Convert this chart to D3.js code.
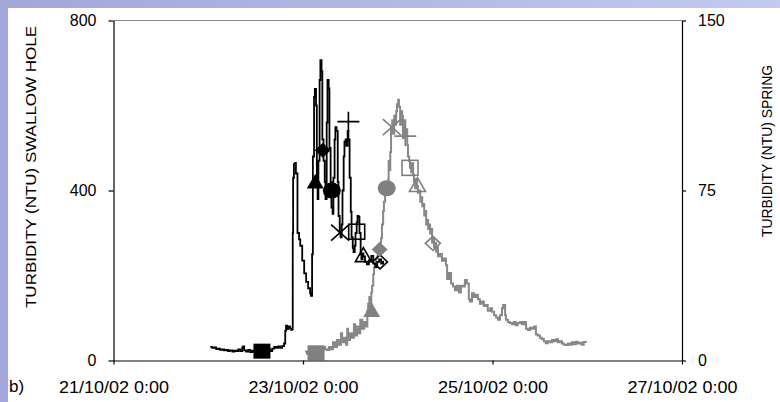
<!DOCTYPE html>
<html>
<head>
<meta charset="utf-8">
<script src="https://cdn.jsdelivr.net/npm/d3@7"></script>
<style>
  html, body { margin: 0; padding: 0; background: #fff; }
  svg { display: block; }
  text { font-family: "Liberation Sans", Arial, sans-serif; fill: #000; }
</style>
</head>
<body>
<svg id="chart" width="780" height="402"></svg>
<script>
// Event start for the time offsets below
const startTime = new Date(2002, 9, 21, 0, 0);

// Swallow hole turbidity (NTU), hours after 21/10/02 0:00
const swallowHours = [24.5,25.0,25.5,26.0,26.5,27.0,27.5,28.0,28.5,29.0,29.5,30.1,30.6,31.1,31.6,32.1,32.6,32.8,33.1,33.6,34.1,34.6,35.1,35.6,36.1,36.6,37.1,37.7,38.2,38.7,39.2,39.7,40.2,40.7,41.2,41.7,42.2,42.7,43.2,43.5,43.7,44.0,44.2,44.7,45.0,45.2,45.4,45.5,45.7,46.0,46.2,46.6,47.0,47.3,47.8,48.3,48.8,49.3,49.8,50.0,50.3,50.5,50.8,51.0,51.3,51.5,51.7,51.9,52.2,52.4,52.7,52.9,53.2,53.5,53.7,54.0,54.2,54.5,54.7,55.0,55.2,55.5,55.7,56.0,56.2,56.5,56.8,57.0,57.3,57.5,57.8,58.0,58.3,58.5,58.8,59.0,59.3,59.5,59.8,60.1,60.3,60.6,60.8,61.1,61.3,61.6,61.8,62.1,62.3,62.6,62.8,63.1,63.3,63.7,64.2,64.7,65.3,65.8,66.3,66.8,67.3,67.8,68.3];
const swallowNTU = [32,30,31,27,28,25,26,24,25,22,24,21,23,22,26,22,30,33,24,21,25,20,23,21,24,22,20,22,21,23,26,22,28,32,30,33,30,34,40,70,82,74,80,75,72,74,300,430,462,465,440,300,285,270,235,205,185,170,158,152,250,480,620,639,600,420,380,470,660,707,680,520,470,420,380,560,660,640,500,420,360,345,430,520,549,540,420,340,300,290,320,400,480,515,520,505,540,520,430,350,290,265,255,270,300,325,340,338,300,250,238,252,245,232,226,236,246,228,220,232,238,228,235];

// Spring turbidity (NTU), hours after 21/10/02 0:00
const springHours = [48.5,49.0,49.5,50.1,50.6,51.1,51.6,52.1,52.6,53.1,53.6,54.1,54.6,55.1,55.6,56.1,56.6,57.1,57.6,57.9,58.4,58.9,59.2,59.4,59.9,60.4,60.9,61.2,61.7,62.2,62.5,63.0,63.5,64.0,64.3,64.5,64.8,65.0,65.3,65.5,65.8,66.0,66.3,66.5,66.8,67.0,67.3,67.5,67.8,68.0,68.3,68.5,68.8,69.1,69.3,69.6,69.7,69.8,70.1,70.3,70.6,70.8,71.1,71.3,71.6,71.8,72.1,72.3,72.6,72.8,73.1,73.3,73.6,73.9,74.1,74.4,74.6,74.9,75.1,75.4,75.6,75.9,76.1,76.4,76.6,76.9,77.1,77.4,77.7,77.9,78.2,78.4,78.7,78.9,79.2,79.4,79.7,79.9,80.2,80.5,80.7,81.0,81.2,81.5,81.7,82.0,82.2,82.7,83.2,83.7,84.2,84.5,85.0,85.5,86.0,86.5,87.0,87.5,88.0,88.5,89.0,89.5,90.0,90.3,90.8,91.3,91.8,92.3,92.8,93.3,93.8,94.3,94.8,95.4,95.9,96.4,96.9,97.4,97.9,98.4,98.7,99.2,99.4,99.9,100.4,100.9,101.4,101.9,102.4,103.0,103.5,104.0,104.5,105.0,105.5,106.0,106.5,107.0,107.5,108.0,108.5,109.0,109.5,110.0,110.6,111.1,111.6,112.1,112.6,113.1,113.6,114.1,114.6,115.1,115.6,116.1,116.6,117.1,117.6,118.1,118.6,119.1,119.7];
const springNTU = [4,3,5,4,3,4,3.5,5,4,6,5,4.6,6,5,8,6,9,7,12,8,10,7,14,9,12,10,16,11,15,12,18,14,17,15,22,25,28,24,30,33,38,41,43,45,46,48,49,52,54,60,66,70,74,76,78,80,88,84,92,103,106,100,108,104,110,113,115,112,104,110,108,98,106,99,102,95,90,88,85,83,87,82,79,76,80,77,74,75,70,72,68,69,64,66,60,62,58,60,56,58,52,54,50,52,48,50,46,47,44,45,42,36,38.6,34,32.6,31,33,30,33,32.6,35.5,34,27,26,29.7,28,29,27,25,26,24,24.5,22,23,21.5,20,19,18,20,23,24.5,20,18,17,16.5,16,17,15.5,16.5,17,16,17,14,13.5,14.5,14,15,11.5,11,10,9.5,8.5,7.6,8.5,8,9,8.5,9.4,8,8.5,7.5,7,6.8,7.5,7,8,7.2,8.3,7.5,7.8,7,8.2,7.9];

// Sampling points, one symbol per sample
const sampleSymbols = ["square", "triangle", "diamond", "circle", "cross", "plus", "squareOpen", "triangleOpen", "diamondOpen"];
const swallowSampleHours = [37.6, 51.1, 53.0, 55.3, 57.4, 59.5, 61.6, 63.3, 67.5];
const swallowSampleNTU = [22, 421, 495, 400, 301, 562, 303, 248, 232];
const springSampleHours = [51.3, 65.4, 67.4, 69.2, 70.5, 73.9, 75.1, 77.0, 80.9];
const springSampleNTU = [3.4, 22.3, 49, 76, 103, 99, 85, 77.4, 51.7];

// Axis ticks
const leftTicks = [0, 400, 800];
const rightTicks = [0, 75, 150];
const dateTicks = ["2002-10-21", "2002-10-23", "2002-10-25", "2002-10-27"];

const svg = d3.select("#chart");
const W = 780, H = 402;
const plot = { left: 113.5, right: 682, top: 20.5, bottom: 360.5 };

const toDate = h => new Date(startTime.getTime() + h * 3600e3);

// Frame background
const defs = svg.append("defs");
const grad = defs.append("linearGradient").attr("id", "frameGrad")
  .attr("x1", "0%").attr("y1", "0%").attr("x2", "100%").attr("y2", "0%");
grad.append("stop").attr("offset", "0%").attr("stop-color", "#a2a6da");
grad.append("stop").attr("offset", "100%").attr("stop-color", "#c2caf0");
svg.append("rect").attr("width", W).attr("height", H).attr("fill", "url(#frameGrad)");
svg.append("rect").attr("x", 8).attr("y", 8).attr("width", W - 8).attr("height", H - 8).attr("fill", "#fff");

// Scales
const x = d3.scaleTime()
  .domain([new Date(2002, 9, 21), new Date(2002, 9, 27)])
  .range([plot.left, plot.right]);
const yL = d3.scaleLinear().domain([0, 800]).range([plot.bottom, plot.top]);
const yR = d3.scaleLinear().domain([0, 150]).range([plot.bottom, plot.top]);

// Top border of the plot area
svg.append("line")
  .attr("x1", plot.left).attr("x2", plot.right)
  .attr("y1", plot.top).attr("y2", plot.top)
  .attr("stroke", "#8a8a8a").attr("stroke-width", 1.2);

// Series lines
const springLine = d3.line()
  .x((d, i) => x(toDate(springHours[i])))
  .y(d => yR(d))
  .curve(d3.curveStepAfter);
const swallowLine = d3.line()
  .x((d, i) => x(toDate(swallowHours[i])))
  .y(d => yL(d))
  .curve(d3.curveStepAfter);

svg.append("path").datum(springNTU)
  .attr("d", springLine)
  .attr("fill", "none").attr("stroke", "#888").attr("stroke-width", 2)
  .attr("stroke-linejoin", "miter");
svg.append("path").datum(swallowNTU)
  .attr("d", swallowLine)
  .attr("fill", "none").attr("stroke", "#000").attr("stroke-width", 1.8)
  .attr("stroke-linejoin", "miter");

// Marker drawing
function drawMarker(g, kind, cx, cy, color) {
  const sw = 1.6;
  switch (kind) {
    case "square":
      g.append("rect").attr("x", cx - 8.5).attr("y", cy - 7.5).attr("width", 17).attr("height", 15).attr("fill", color);
      break;
    case "squareOpen":
      g.append("rect").attr("x", cx - 8).attr("y", cy - 7.5).attr("width", 16).attr("height", 15)
        .attr("fill", "none").attr("stroke", color).attr("stroke-width", sw);
      break;
    case "triangle":
      g.append("path").attr("d", `M${cx},${cy - 7.5}L${cx + 8.5},${cy + 7}L${cx - 8.5},${cy + 7}Z`).attr("fill", color);
      break;
    case "triangleOpen":
      g.append("path").attr("d", `M${cx},${cy - 7.5}L${cx + 8},${cy + 6.5}L${cx - 8},${cy + 6.5}Z`)
        .attr("fill", "none").attr("stroke", color).attr("stroke-width", sw);
      break;
    case "diamond":
      g.append("path").attr("d", `M${cx},${cy - 7.5}L${cx + 8},${cy}L${cx},${cy + 7.5}L${cx - 8},${cy}Z`).attr("fill", color);
      break;
    case "diamondOpen":
      g.append("path").attr("d", `M${cx},${cy - 7}L${cx + 7.5},${cy}L${cx},${cy + 7}L${cx - 7.5},${cy}Z`)
        .attr("fill", "none").attr("stroke", color).attr("stroke-width", sw);
      break;
    case "circle":
      g.append("ellipse").attr("cx", cx).attr("cy", cy).attr("rx", 9).attr("ry", 8).attr("fill", color);
      break;
    case "cross":
      g.append("path").attr("d", `M${cx - 9},${cy - 8}L${cx + 9},${cy + 8}M${cx - 9},${cy + 8}L${cx + 9},${cy - 8}`)
        .attr("stroke", color).attr("stroke-width", sw).attr("fill", "none");
      break;
    case "plus":
      g.append("path").attr("d", `M${cx - 11},${cy}L${cx + 11},${cy}M${cx},${cy - 10}L${cx},${cy + 10}`)
        .attr("stroke", color).attr("stroke-width", sw).attr("fill", "none");
      break;
  }
}

const markers = svg.append("g");
sampleSymbols.forEach((kind, i) => {
  drawMarker(markers, kind, x(toDate(swallowSampleHours[i])), yL(swallowSampleNTU[i]), "#000");
});
sampleSymbols.forEach((kind, i) => {
  drawMarker(markers, kind, x(toDate(springSampleHours[i])), yR(springSampleNTU[i]), "#808080");
});

// Axes
const fmt = d3.timeFormat("%d/%m/%y %-H:%M");
const xAxis = svg.append("g")
  .attr("transform", `translate(0,${plot.bottom})`)
  .call(d3.axisBottom(x)
    .tickValues(dateTicks.map(s => d3.timeParse("%Y-%m-%d")(s)))
    .tickFormat(fmt).tickSize(4).tickSizeOuter(0).tickPadding(16));
xAxis.selectAll("text").attr("font-size", 17).attr("textLength", 110).attr("lengthAdjust", "spacingAndGlyphs");

const leftAxis = svg.append("g")
  .attr("transform", `translate(${plot.left},0)`)
  .call(d3.axisLeft(yL).tickValues(leftTicks).tickSize(5).tickSizeOuter(0).tickPadding(12));
leftAxis.selectAll("text").attr("font-size", 16);

const rightAxis = svg.append("g")
  .attr("transform", `translate(${plot.right},0)`)
  .call(d3.axisRight(yR).tickValues(rightTicks).tickSize(4).tickSizeOuter(0).tickPadding(12));
rightAxis.selectAll("text").attr("font-size", 16);

svg.selectAll(".domain").attr("stroke", "#000").attr("stroke-width", 1.2);
svg.selectAll(".tick line").attr("stroke", "#000").attr("stroke-width", 1.2);
svg.selectAll(".tick text").attr("font-family", "Liberation Sans, Arial, sans-serif").attr("fill", "#000");

// Axis titles
svg.append("text")
  .attr("transform", "translate(36,167) rotate(-90)")
  .attr("text-anchor", "middle")
  .attr("font-size", 15)
  .attr("textLength", 282).attr("lengthAdjust", "spacingAndGlyphs")
  .text("TURBIDITY (NTU) SWALLOW HOLE");
svg.append("text")
  .attr("transform", "translate(772,151) rotate(-90)")
  .attr("text-anchor", "middle")
  .attr("font-size", 15)
  .attr("textLength", 172).attr("lengthAdjust", "spacingAndGlyphs")
  .text("TURBIDITY (NTU) SPRING");

// Panel label
svg.append("text")
  .attr("x", 9).attr("y", 392)
  .attr("font-size", 17)
  .text("b)");
</script>
</body>
</html>
